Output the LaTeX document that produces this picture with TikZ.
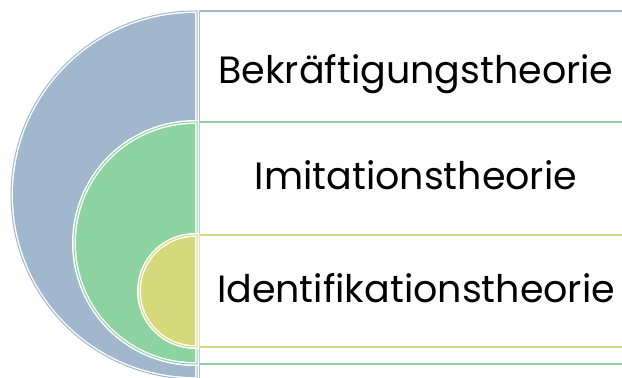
\documentclass[tikz,border=0pt]{standalone}
\usepackage{fontspec}
\setmainfont{Poppins}
\definecolor{cblue}{RGB}{161,183,205}
\definecolor{cgreen}{RGB}{140,211,161}
\definecolor{cyellow}{RGB}{213,217,123}
\tikzset{
  halo/.style={draw=white,line width=4pt,fill=white},
  thinline/.style={draw=#1,line width=1pt},
  fillpart/.style={fill=#1},
  boxpart/.style={draw=#1,line width=2pt,fill=white},
  lbl/.style={anchor=base,font=\fontsize{38}{44}\selectfont,text=black,inner sep=0pt}
}
\newcommand{\halfdisc}[4]{% color, cx, cy, r
  \path[halo] (#2+2,#3+#4+2) -- (#2,#3+#4+2) arc[start angle=90,end angle=270,radius=#4+2] -- (#2+2,#3-#4-2) -- cycle;
  \path[thinline=#1] (#2+2,#3+#4+2) -- (#2,#3+#4+2) arc[start angle=90,end angle=270,radius=#4+2] -- (#2+2,#3-#4-2) -- cycle;
  \path[fillpart=#1] (#2,#3+#4) arc[start angle=90,end angle=270,radius=#4] -- cycle;
}
\begin{document}
\begin{tikzpicture}[x=1pt,y=1pt]
\useasboundingbox (0,0) rectangle (622,378);
\clip (0,0) rectangle (622,378);
% boxes
\path[boxpart=cblue] (199,-5) rectangle (640,367);
\path[boxpart=cgreen] (199,14) rectangle (640,256);
\path[boxpart=cyellow] (199,31) rectangle (640,143);
% nested half discs
\halfdisc{cblue}{195}{183}{182}
\halfdisc{cgreen}{195}{135}{119}
\halfdisc{cyellow}{195}{87}{54}
% labels
\node[lbl] (t1) at (416,294) {Bekräftigungstheorie};
\node[lbl] (t2) at (416,188) {Imitationstheorie};
\node[lbl] (t3) at (416,75) {Identifikationstheorie};
\end{tikzpicture}
\end{document}
